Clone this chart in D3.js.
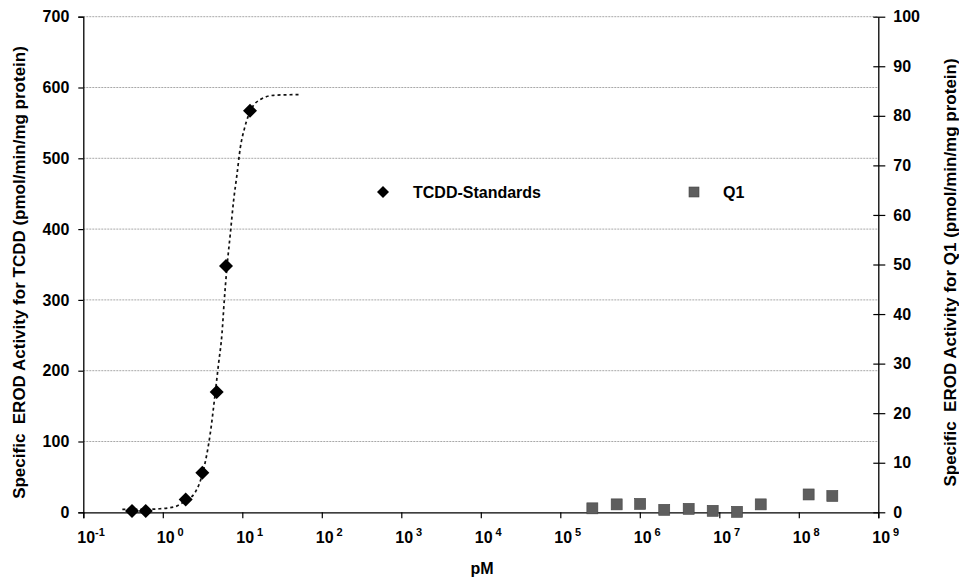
<!DOCTYPE html>
<html>
<head>
<meta charset="utf-8">
<script src="https://d3js.org/d3.v7.min.js"></script>
<style>
  body { margin: 0; background: #fff; }
  text { font-family: "Liberation Sans", Arial, sans-serif; font-weight: bold; fill: #000; white-space: pre; }
</style>
</head>
<body>
<div id="chart"></div>
<script>
// TCDD standards (pM, pmol/min/mg protein) - left axis
var tcddConc = [0.41, 0.61, 1.94, 3.14, 4.76, 6.24, 12.5];
var tcddActivity = [2, 2, 18, 56, 170, 348, 567];

// dotted fit line for the standards
var fitConc = [0.31, 0.5, 0.92, 1.43, 1.9, 2.55, 3.25, 3.95, 4.56, 5.03, 5.55, 5.93, 6.41, 7.06, 7.77, 8.57, 9.44, 10.7, 13.2, 16.9, 24.8, 51];
var fitActivity = [4, 4, 5, 8, 16, 28, 60, 111, 168, 210, 252, 299, 346, 393, 440, 477, 515, 543, 571, 583, 589, 590];

// Q1 sample - right axis
var q1Conc = [2.53e5, 5.12e5, 1.01e6, 2.03e6, 4.12e6, 8.26e6, 1.67e7, 3.32e7, 1.33e8, 2.64e8];
var q1Activity = [0.8, 1.6, 1.7, 0.5, 0.7, 0.3, 0.1, 1.6, 3.6, 3.3];

var xExponents = [-1, 0, 1, 2, 3, 4, 5, 6, 7, 8, 9];
var leftTicks = [0, 100, 200, 300, 400, 500, 600, 700];
var rightTicks = [0, 10, 20, 30, 40, 50, 60, 70, 80, 90, 100];

var width = 959, height = 581;
var plotLeft = 83.3, plotRight = 878.3, plotTop = 16.7, plotBottom = 512.3;

var svg = d3.select("#chart").append("svg")
    .attr("width", width)
    .attr("height", height);

var x = d3.scaleLog().domain([0.1, 1e9]).range([plotLeft, plotRight]);
var yL = d3.scaleLinear().domain([0, 700]).range([plotBottom, plotTop]);
var yR = d3.scaleLinear().domain([0, 100]).range([plotBottom, plotTop]);

// gridlines
svg.append("g").selectAll("line")
    .data(leftTicks.filter(function(d) { return d > 0; }))
    .join("line")
    .attr("x1", plotLeft).attr("x2", plotRight)
    .attr("y1", function(d) { return yL(d); })
    .attr("y2", function(d) { return yL(d); })
    .attr("stroke", "#a8a8a8")
    .attr("stroke-width", 1)
    .attr("stroke-dasharray", "2,1");

// left axis
var gl = svg.append("g").attr("transform", "translate(" + plotLeft + ",0)")
    .call(d3.axisLeft(yL).tickValues(leftTicks).tickSize(5).tickPadding(9));
gl.selectAll("text").style("font-size", "16px");

// right axis with crossing ticks
var gr = svg.append("g").attr("transform", "translate(" + plotRight + ",0)")
    .call(d3.axisRight(yR).tickValues(rightTicks).tickSizeInner(7).tickSizeOuter(0).tickPadding(8));
gr.selectAll(".tick line").attr("x1", -5);
gr.selectAll("text").style("font-size", "16px");

// bottom axis
var gb = svg.append("g").attr("transform", "translate(0," + plotBottom + ")")
    .call(d3.axisBottom(x).tickValues(xExponents.map(function(e) { return Math.pow(10, e); }))
        .tickSize(6).tickFormat(""));

[gl, gr, gb].forEach(function(g) {
    g.select(".domain").attr("stroke", "#000").attr("stroke-width", 1.3);
    g.selectAll(".tick line").attr("stroke", "#000").attr("stroke-width", 1.2);
});

// x tick labels as 10 with superscript exponent
var xl = svg.append("g").selectAll("text")
    .data(xExponents)
    .join("text")
    .attr("x", function(d) { return x(Math.pow(10, d)) - 6; })
    .attr("y", 543)
    .style("font-size", "16px");
xl.append("tspan").text("10");
xl.append("tspan")
    .attr("dx", function(d) { return d < 0 ? 0 : 3; })
    .attr("dy", -7)
    .style("font-size", "11px")
    .text(function(d) { return d; });

// axis titles
svg.append("text")
    .attr("transform", "translate(25," + ((plotTop + plotBottom) / 2 + 8) + ") rotate(-90)")
    .attr("text-anchor", "middle")
    .attr("xml:space", "preserve")
    .style("font-size", "17px")
    .text("Specific  EROD Activity for TCDD (pmol/min/mg protein)");

svg.append("text")
    .attr("transform", "translate(956," + ((plotTop + plotBottom) / 2 + 8) + ") rotate(-90)")
    .attr("text-anchor", "middle")
    .attr("xml:space", "preserve")
    .style("font-size", "17px")
    .text("Specific  EROD Activity for Q1 (pmol/min/mg protein)");

svg.append("text")
    .attr("x", 482).attr("y", 574)
    .attr("text-anchor", "middle")
    .style("font-size", "16px")
    .text("pM");

// fit line
var line = d3.line()
    .x(function(d) { return x(d[0]); })
    .y(function(d) { return yL(d[1]); })
    .curve(d3.curveMonotoneX);

svg.append("path")
    .datum(fitConc.map(function(c, i) { return [c, fitActivity[i]]; }))
    .attr("d", line)
    .attr("fill", "none")
    .attr("stroke", "#111")
    .attr("stroke-width", 1.7)
    .attr("stroke-dasharray", "3,3");

var diamond = "M0,-7L7,0L0,7L-7,0Z";

svg.append("g").selectAll("path")
    .data(tcddConc)
    .join("path")
    .attr("d", diamond)
    .attr("transform", function(d, i) { return "translate(" + x(d) + "," + yL(tcddActivity[i]) + ")"; })
    .attr("fill", "#000");

svg.append("g").selectAll("rect")
    .data(q1Conc)
    .join("rect")
    .attr("x", function(d) { return x(d) - 5.5; })
    .attr("y", function(d, i) { return yR(q1Activity[i]) - 5.5; })
    .attr("width", 11).attr("height", 11)
    .attr("fill", "#5e5e5e")
    .attr("stroke", "#444")
    .attr("stroke-width", 0.6);

// legend
svg.append("path").attr("d", "M0,-6L6,0L0,6L-6,0Z")
    .attr("transform", "translate(383,192)").attr("fill", "#000");
svg.append("text").attr("x", 413).attr("y", 198).style("font-size", "16px").text("TCDD-Standards");

svg.append("rect").attr("x", 689).attr("y", 187).attr("width", 10).attr("height", 10)
    .attr("fill", "#5e5e5e").attr("stroke", "#444").attr("stroke-width", 0.6);
svg.append("text").attr("x", 723).attr("y", 198).style("font-size", "16px").text("Q1");
</script>
</body>
</html>
